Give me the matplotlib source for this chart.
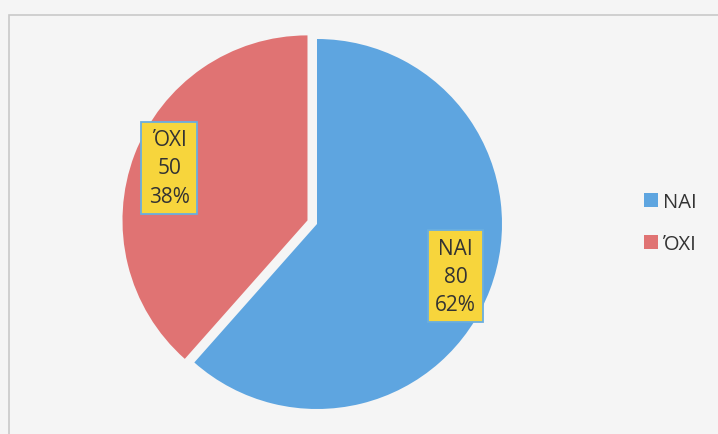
import numpy as np
import matplotlib.pyplot as plt
from matplotlib.patches import Rectangle, Patch

# data
labels = ['ΝΑΙ', 'ΌΧΙ']
values = [80, 50]
colors = ['#5ea5e0', '#e07373']

plt.rcParams['font.family'] = ['Open Sans', 'DejaVu Sans']

W, H = 718, 435
fig = plt.figure(figsize=(W / 100, H / 100), dpi=100)
fig.patch.set_facecolor('#f5f5f5')

# thin border of the chart area
fig.patches.append(Rectangle((9 / W, -0.1), 1.2, 1 - 16 / H + 0.1, transform=fig.transFigure,
                             fill=False, edgecolor='#c9c9c9', linewidth=1.2))

# pie centred at (317, 225) px, radius about 185 px
cx, cy, r = 317, 225, 185
half = 205
ax = fig.add_axes([(cx - half) / W, (H - cy - half) / H, 2 * half / W, 2 * half / H])
ax.set_facecolor('none')

total = sum(values)
wedges, texts, autotexts = ax.pie(values, colors=colors, startangle=90, counterclock=False,
                                  explode=[0, 0.055], pctdistance=0.8,
                                  autopct=lambda p: '%.0f%%' % p,
                                  wedgeprops=dict(linewidth=0))
for t, lab, v in zip(autotexts, labels, values):
    t.set_text('%s\n%d\n%.0f%%' % (lab, v, 100 * v / total))
    t.set_fontsize(15)
    t.set_color('#333333')
    t.set_linespacing(1.45)
    t.set_bbox(dict(boxstyle='square,pad=0.35', facecolor='#f7d53c', edgecolor='#6aaedf', linewidth=1.3))

lim = half / r
ax.set_xlim(-lim, lim)
ax.set_ylim(-lim, lim)
ax.set_aspect('equal')
ax.axis('off')

handles = [Patch(facecolor=c, edgecolor='none') for c in colors]
fig.legend(handles, labels, loc='center left', bbox_to_anchor=(0.872, 0.485), frameon=False,
           fontsize=14.5, handlelength=0.7, handleheight=0.7, handletextpad=0.25,
           labelspacing=1.1, labelcolor='#333333')

fig.savefig('out.png', dpi=100, facecolor=fig.get_facecolor())
